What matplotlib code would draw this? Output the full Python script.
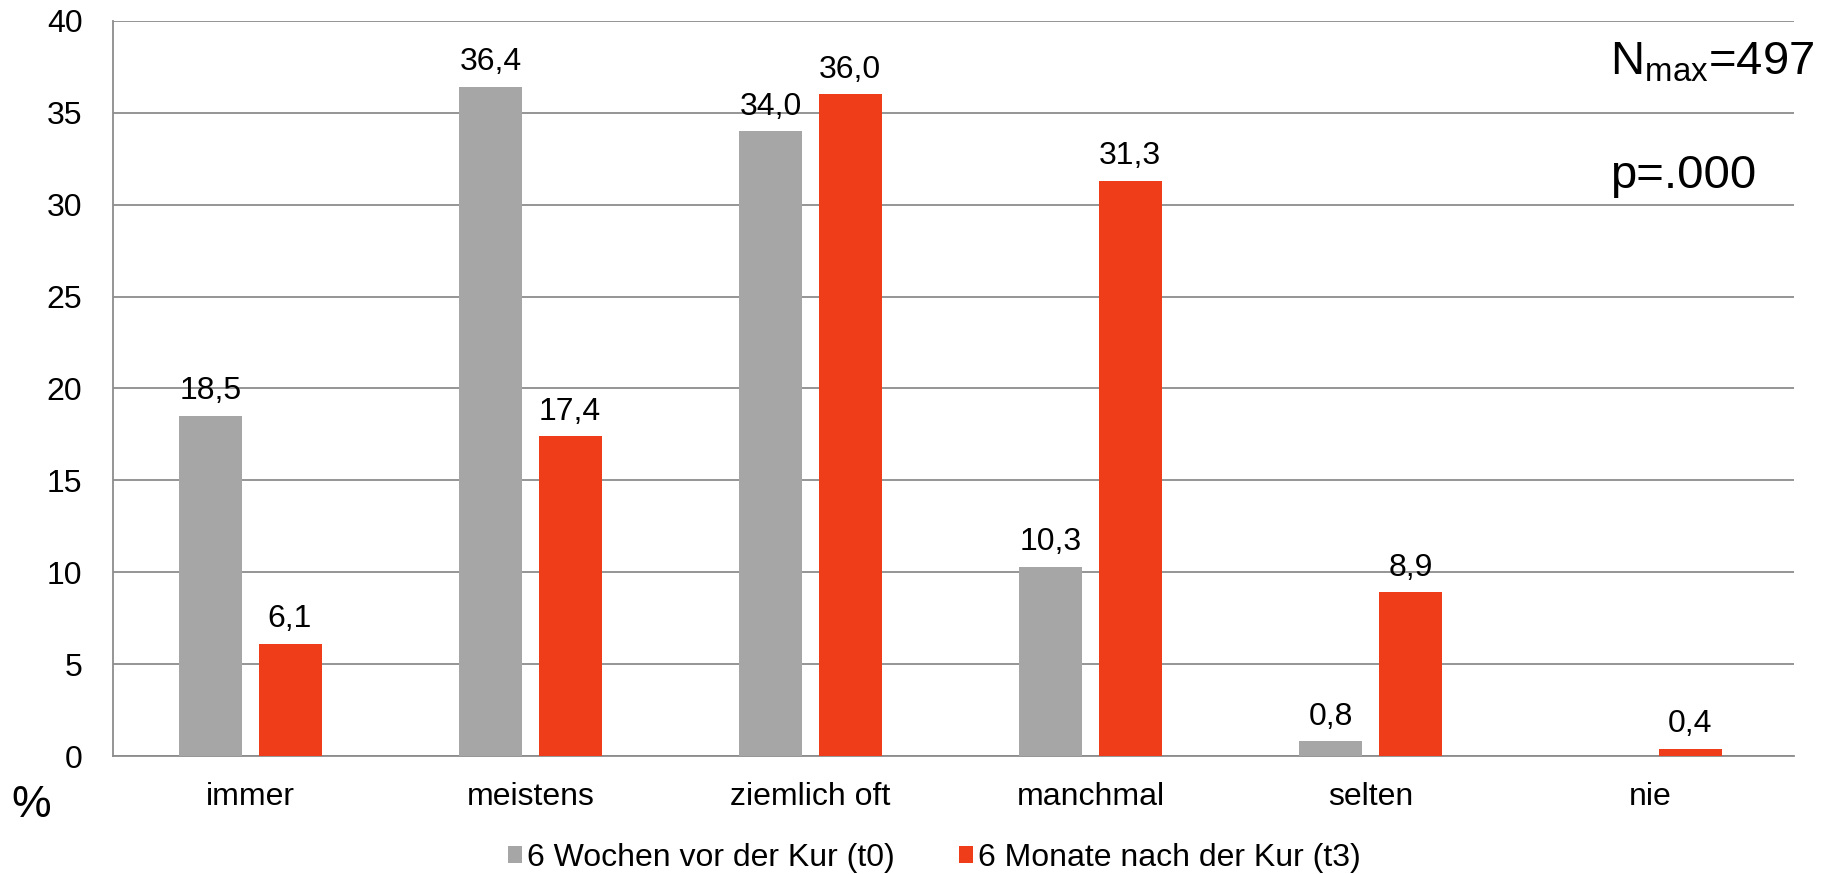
import numpy as np
import matplotlib.pyplot as plt
from matplotlib.patches import Patch

plt.rcParams['font.family'] = ['Liberation Sans', 'DejaVu Sans']

categories = ['immer', 'meistens', 'ziemlich oft', 'manchmal', 'selten', 'nie']
t0_values = [18.5, 36.4, 34.0, 10.3, 0.8, None]
t3_values = [6.1, 17.4, 36.0, 31.3, 8.9, 0.4]
series_names = ['6 Wochen vor der Kur (t0)', '6 Monate nach der Kur (t3)']
colors = ['#a6a6a6', '#ef3c19']

fig = plt.figure(figsize=(18.32, 8.74), dpi=100)
ax = fig.add_axes([0.0617, 0.135, 0.9173, 0.841])

x = np.arange(len(categories))
width = 0.225
offset = 0.142

for vals, sign, color in [(t0_values, -1, colors[0]), (t3_values, 1, colors[1])]:
    for xi, v in zip(x, vals):
        if v is None:
            continue
        ax.bar(xi + sign * offset, v, width=width, color=color, zorder=3)
        ax.annotate(f'{v:.1f}'.replace('.', ','), xy=(xi + sign * offset, v),
                    xytext=(0, 7), textcoords='offset points',
                    ha='center', va='bottom', fontsize=23, zorder=4)

ax.set_xlim(-0.49, len(categories) - 0.49)
ax.set_ylim(0, 40)
ax.set_yticks(np.arange(0, 41, 5))
ax.set_xticks(x)
ax.set_xticklabels(categories)
ax.tick_params(axis='both', length=0, labelsize=23)
ax.tick_params(axis='x', pad=19)
ax.tick_params(axis='y', pad=22)
ax.yaxis.grid(True, color='#8c8c8c', linewidth=1.3, zorder=0)
for side in ['top', 'right']:
    ax.spines[side].set_visible(False)
ax.spines['left'].set_color('#8c8c8c')
ax.spines['bottom'].set_color('#8c8c8c')
ax.spines['left'].set_linewidth(1.3)
ax.spines['bottom'].set_linewidth(1.3)

fig.text(0.006, 0.065, '%', fontsize=32, ha='left', va='baseline')
fig.text(0.879, 0.915, r'N$_{\mathregular{max}}$=497', fontsize=34, ha='left', va='baseline')
fig.text(0.879, 0.785, 'p=.000', fontsize=34, ha='left', va='baseline')

handles = [Patch(facecolor=c, edgecolor='none') for c in colors]
fig.legend(handles, series_names, loc='center', bbox_to_anchor=(0.51, 0.018),
           ncol=2, frameon=False, fontsize=23, handlelength=0.45, handleheight=0.45,
           handletextpad=0.15, columnspacing=2.0)

fig.savefig('out.png', dpi=100)
